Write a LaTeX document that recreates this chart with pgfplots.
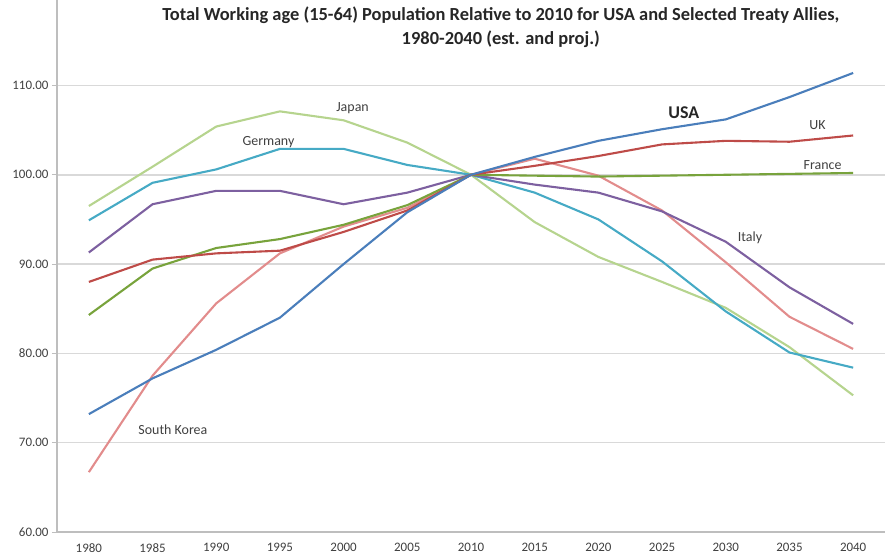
\documentclass[border=0pt]{standalone}
\usepackage{fontspec}
\setmainfont{Carlito}
\usepackage{pgfplots}
\usepackage{pgfplotstable}
\pgfplotsset{compat=1.18}
\definecolor{cUSA}{RGB}{74,126,187}
\definecolor{cUK}{RGB}{190,75,72}
\definecolor{cFR}{RGB}{120,163,60}
\definecolor{cIT}{RGB}{125,96,160}
\definecolor{cDE}{RGB}{70,170,197}
\definecolor{cJP}{RGB}{182,212,142}
\definecolor{cKR}{RGB}{226,140,140}
\definecolor{gridc}{RGB}{217,217,217}
\definecolor{axc}{RGB}{190,190,190}
\definecolor{txt}{RGB}{64,64,64}
\pgfplotstableread{
year USA UK France Italy Germany Japan Korea
1980 73.2 88.0 84.3 91.3 94.9 96.5 66.7
1985 77.2 90.5 89.5 96.7 99.1 100.9 77.5
1990 80.4 91.2 91.8 98.2 100.6 105.4 85.6
1995 84.0 91.5 92.8 98.2 102.9 107.1 91.2
2000 90.0 93.6 94.4 96.7 102.9 106.1 94.2
2005 95.8 96.0 96.6 98.0 101.1 103.6 96.3
2010 100.0 100.0 100.0 100.0 100.0 100.0 100.0
2015 102.0 101.0 99.9 98.9 98.0 94.7 101.8
2020 103.8 102.1 99.8 98.0 95.0 90.8 99.9
2025 105.1 103.4 99.9 95.9 90.3 88.0 96.0
2030 106.2 103.8 100.0 92.5 84.7 85.1 90.2
2035 108.7 103.7 100.1 87.4 80.1 80.7 84.1
2040 111.4 104.4 100.2 83.3 78.4 75.3 80.5
}\data
\begin{document}
\begin{tikzpicture}
\begin{axis}[
  name=ax,
  scale only axis,
  width=828bp, height=532bp,
  xmin=1977.5, xmax=2042.5,
  ymin=60, ymax=119.57,
  axis x line*=bottom, axis y line*=left,
  axis line style={draw=axc, line width=1.3bp},
  xtick={1980,1985,...,2040},
  extra x ticks={1977.5,1982.5,...,2042.5},
  extra x tick labels={},
  extra x tick style={major tick length=5bp, tick style={draw=axc, line width=1bp}, grid=none},
  x tick label style={font=\fontsize{13}{14}\selectfont, text=txt},
  xticklabel style={yshift=-3bp},
  xtick style={draw=none},
  xticklabel={\pgfmathprintnumber[1000 sep={}]{\tick}},
  ytick={60,70,...,110},
  y tick label style={font=\fontsize{13}{14}\selectfont, text=txt},
  yticklabel style={/pgf/number format/.cd, fixed, fixed zerofill, precision=2},
  /pgf/number format/assume math mode=true,
  ytick style={draw=axc, line width=1bp},
  tick align=outside, major tick length=5bp,
  ymajorgrids, major grid style={draw=gridc, line width=1.6bp},
  clip=false,
  every axis plot/.append style={line width=2.1bp, mark=none, line join=round},
]
\addplot[cKR] table[x=year,y=Korea]{\data};
\addplot[cJP] table[x=year,y=Japan]{\data};
\addplot[cDE] table[x=year,y=Germany]{\data};
\addplot[cIT] table[x=year,y=Italy]{\data};
\addplot[cFR] table[x=year,y=France]{\data};
\addplot[cUK] table[x=year,y=UK]{\data};
\addplot[cUSA] table[x=year,y=USA]{\data};
\begin{scope}[every node/.style={font=\fontsize{14}{16}\selectfont, text=txt}]
\node at (axis cs:2000.7,107.5) {Japan};
\node at (axis cs:1994.1,103.7) {Germany};
\node at (axis cs:2037.2,105.6) {UK};
\node at (axis cs:2037.6,101.1) {France};
\node at (axis cs:2031.9,92.9) {Italy};
\node at (axis cs:1986.6,71.4) {South Korea};
\node[font=\fontsize{18}{20}\selectfont\bfseries, text=black!85] at (axis cs:2026.7,107.0) {USA};
\end{scope}
\node[anchor=center, align=center, font=\fontsize{18.5}{24}\selectfont\bfseries, text=black!85]
  at (rel axis cs:0.536,0.948) {Total Working age (15-64) Population Relative to 2010 for USA and Selected Treaty Allies,\\1980-2040 (est. and proj.)};
\end{axis}
\pgfresetboundingbox
\path (ax.south west) ++(-57bp,-27bp) rectangle ([shift={(831bp,0bp)}]ax.north west);
\end{tikzpicture}
\end{document}
